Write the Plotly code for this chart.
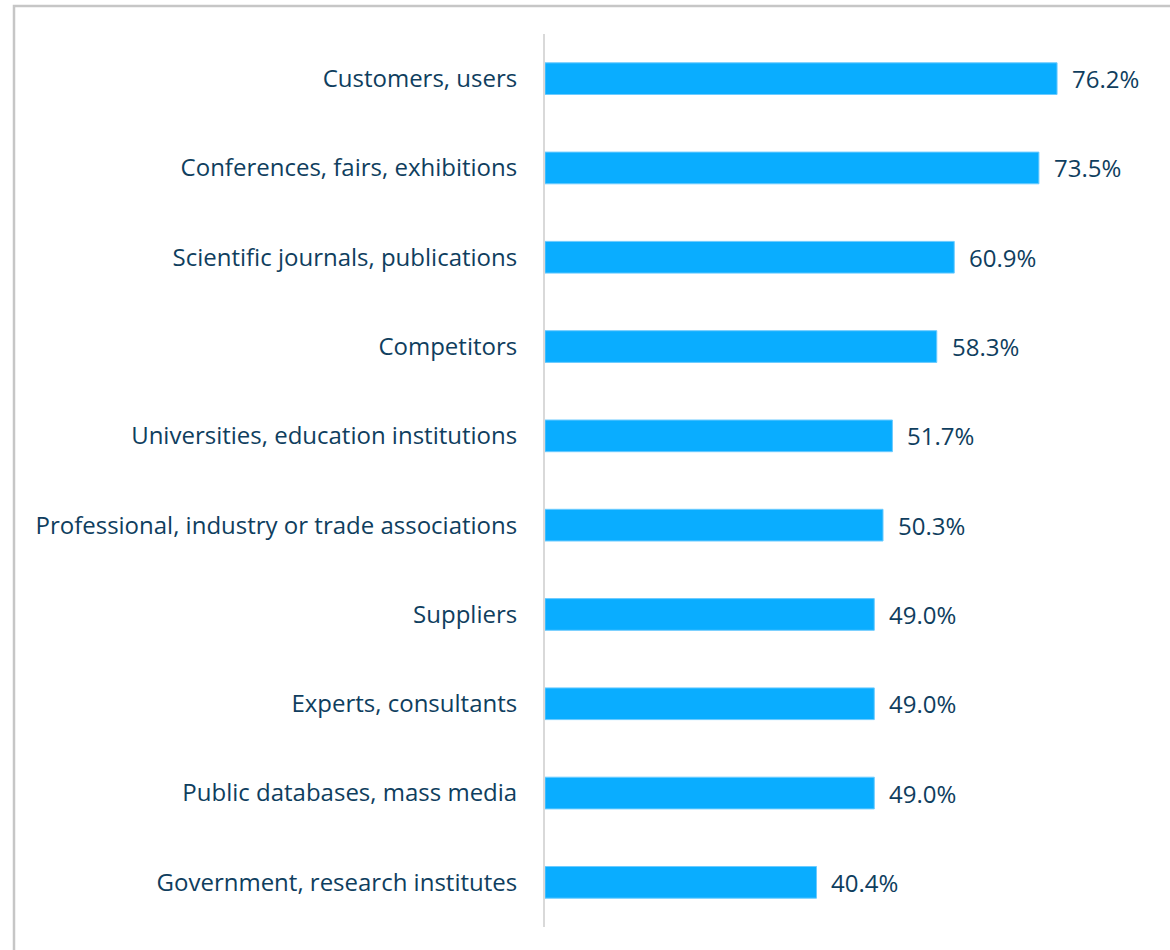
import plotly.graph_objects as go

categories = [
    "Customers, users",
    "Conferences, fairs, exhibitions",
    "Scientific journals, publications",
    "Competitors",
    "Universities, education institutions",
    "Professional, industry or trade associations",
    "Suppliers",
    "Experts, consultants",
    "Public databases, mass media",
    "Government, research institutes",
]
values = [76.2, 73.5, 60.9, 58.3, 51.7, 50.3, 49.0, 49.0, 49.0, 40.4]

BAR_COLOR = "#0AADFF"
TEXT_COLOR = "#0F3E5E"
FONT = "Open Sans"
FONT_SIZE = 24

fig = go.Figure(
    go.Bar(
        x=values,
        y=categories,
        orientation="h",
        marker=dict(color=BAR_COLOR, line=dict(color="#6CCBFF", width=1)),
        width=0.355,
        hoverinfo="skip",
    )
)

for cat, v in zip(categories, values):
    fig.add_annotation(
        x=v, y=cat, xref="x", yref="y",
        text=f"{v:.1f}%", showarrow=False,
        xanchor="left", yanchor="middle", xshift=13,
        font=dict(family=FONT, size=FONT_SIZE, color=TEXT_COLOR),
    )

# outer frame of the chart area
fig.add_shape(
    type="rect", xref="paper", yref="paper",
    x0=-545 / 625 + 14 / 625, x1=1.2, y0=-0.2, y1=1 + 28 / 893,
    line=dict(color="#C6C6C6", width=2.5), layer="below",
)

fig.update_layout(
    width=1170, height=950,
    margin=dict(l=545, r=0, t=34, b=23),
    paper_bgcolor="white", plot_bgcolor="white",
    showlegend=False,
    font=dict(family=FONT, size=FONT_SIZE, color=TEXT_COLOR),
)
fig.update_xaxes(
    range=[0, 625 / 6.72], showgrid=False, zeroline=False,
    showticklabels=False, showline=False, fixedrange=True,
)
fig.update_yaxes(
    autorange="reversed", showgrid=False, zeroline=False,
    showline=True, linecolor="#D9D9D9", linewidth=2,
    ticks="", ticklabelstandoff=21,
    tickfont=dict(family=FONT, size=FONT_SIZE, color=TEXT_COLOR),
)

fig.write_html("out.html")
